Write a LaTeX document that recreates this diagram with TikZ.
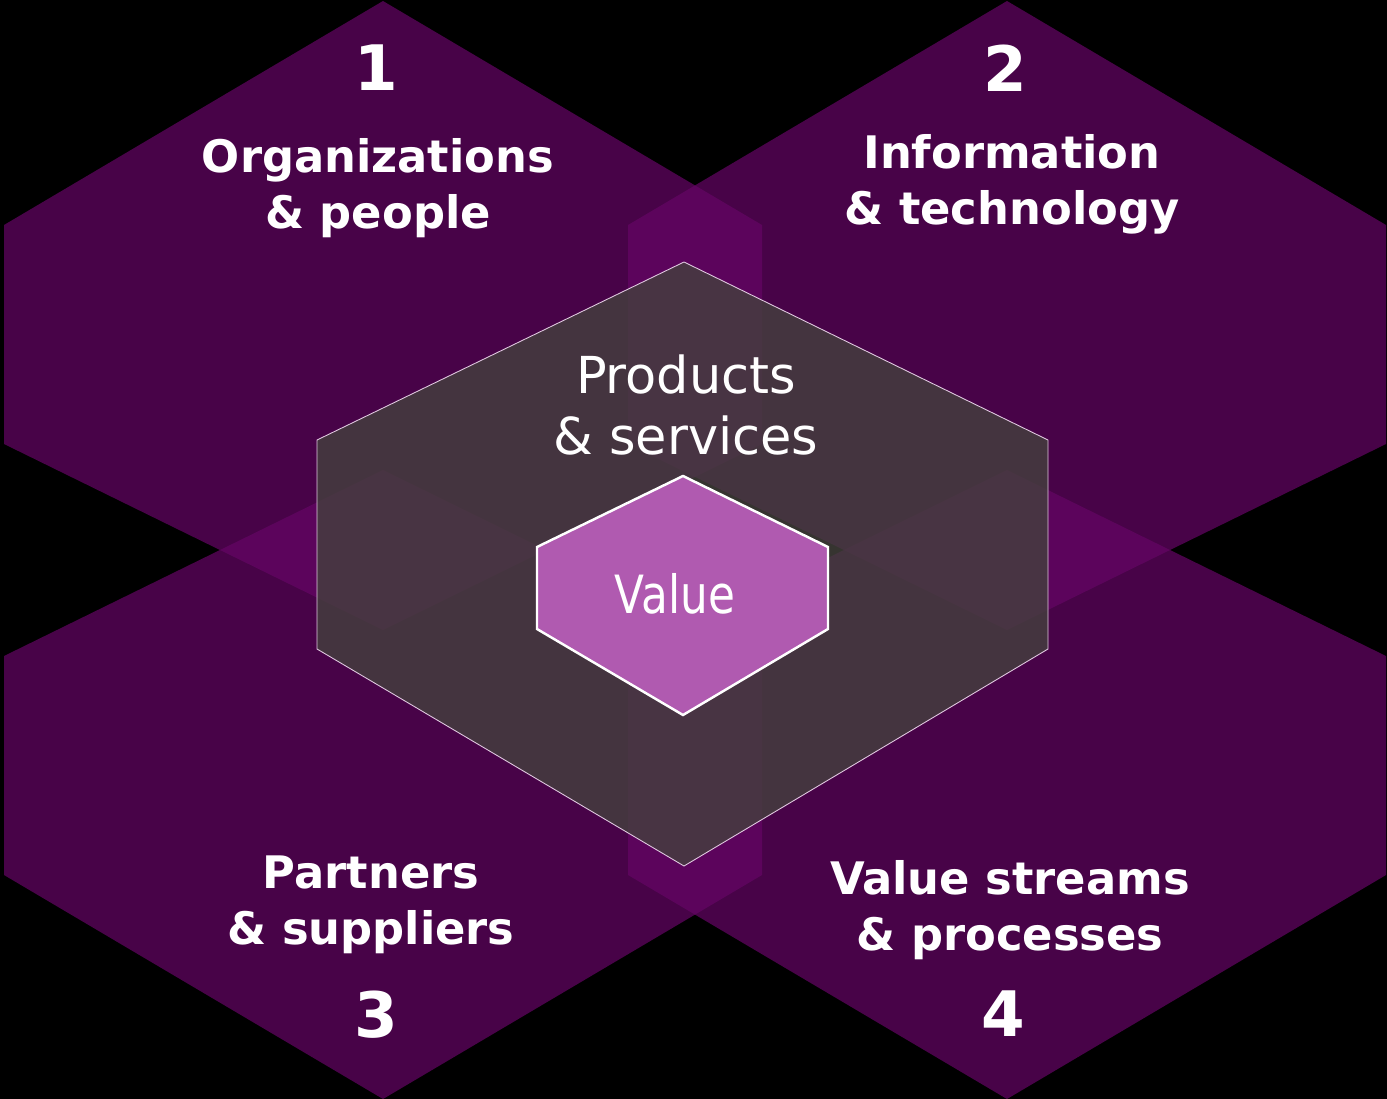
\documentclass[tikz,border=0pt]{standalone}
\usepackage{fontspec}
\setmainfont{DejaVu Sans}
\newfontfamily\valuefont[FakeStretch=0.83]{DejaVu Sans}
\definecolor{hexpurple}{RGB}{100,5,100}
\definecolor{hexgrey}{RGB}{68,65,61}
\definecolor{valuefill}{RGB}{176,90,176}
\definecolor{greyedge}{RGB}{225,200,225}

\begin{document}
\begin{tikzpicture}[x=0.02cm,y=-0.02cm,
  bighex/.style={fill=hexpurple,fill opacity=0.72},
  areatext/.style={text=white,inner sep=0pt,align=center,
    font=\fontsize{25.5}{31.8}\selectfont\bfseries},
  areanum/.style={text=white,inner sep=0pt,
    font=\fontsize{35.7}{40}\selectfont\bfseries}]
  \useasboundingbox (0,0) rectangle (1387,1099);
  \fill[black] (0,0) rectangle (1387,1099);

  % the four areas
  \fill[bighex] (383,1) -- (762,225) -- (762,444) -- (383,630) -- (4,444) -- (4,225) -- cycle;
  \fill[bighex] (1007,1) -- (1386,225) -- (1386,444) -- (1007,630) -- (628,444) -- (628,225) -- cycle;
  \fill[bighex] (383,470) -- (762,656) -- (762,875) -- (383,1099) -- (4,875) -- (4,656) -- cycle;
  \fill[bighex] (1007,470) -- (1386,656) -- (1386,875) -- (1007,1099) -- (628,875) -- (628,656) -- cycle;

  % products and value
  \filldraw[fill=hexgrey,fill opacity=0.8,draw=greyedge,line width=0.5pt]
    (684,262) -- (1048,440) -- (1048,649) -- (684,866) -- (317,649) -- (317,440) -- cycle;
  \filldraw[fill=valuefill,draw=white,line width=1.4pt]
    (683,476) -- (828,547) -- (828,629) -- (683,715) -- (537,629) -- (537,547) -- cycle;

  \node[areanum] (n1) at (376,68) {1};
  \node[areanum] (n2) at (1005,68) {2};
  \node[areanum] (n3) at (376,1015) {3};
  \node[areanum] (n4) at (1003,1014) {4};

  \node[areatext] (t1) at (378,188) {Organizations\\\& people};
  \node[areatext] (t2) at (1012,184) {Information\\\& technology};
  \node[areatext] (t3) at (371,905) {Partners\\\& suppliers};
  \node[areatext] (t4) at (1010,910) {Value streams\\\& processes};

  \node[text=white,inner sep=0pt,align=center,font=\fontsize{29}{35.2}\selectfont]
    (prod) at (686,405) {Products\\\& services};
  \node[text=white,inner sep=0pt,font=\valuefont\fontsize{30}{34}\selectfont]
    (value) at (675,594) {Value};
\end{tikzpicture}
\end{document}
